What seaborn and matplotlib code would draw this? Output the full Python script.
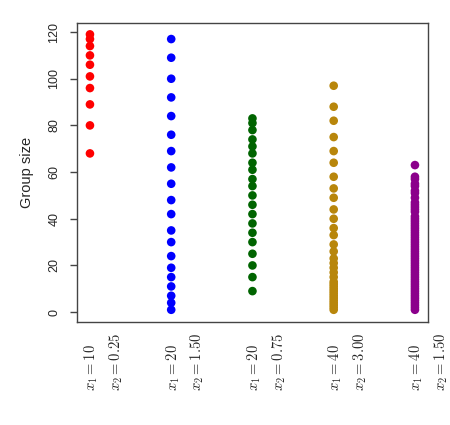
import pandas as pd
import matplotlib
matplotlib.use('Agg')
import matplotlib.pyplot as plt
import matplotlib.transforms as mtransforms
import seaborn as sns

# Group labels (x1, x2 settings) and colours
labels = [
    '$x_1 = 10$\n$x_2 = 0.25$',
    '$x_1 = 20$\n$x_2 = 1.50$',
    '$x_1 = 20$\n$x_2 = 0.75$',
    '$x_1 = 40$\n$x_2 = 3.00$',
    '$x_1 = 40$\n$x_2 = 1.50$',
]
colors = ['#FF0000', '#0000FF', '#006400', '#B8860B', '#8B008B']

# Group sizes
sizes_a = [119, 117, 114, 110, 106, 101, 96, 89, 80, 68]
sizes_b = [117, 109, 100, 92, 84, 76, 69, 62, 55, 48, 42, 35, 30, 24, 19, 15, 11, 7, 4, 1]
sizes_c = [83, 81, 78, 74, 71, 68, 64, 61, 57, 54, 50, 46, 42, 38, 34, 30, 25, 20, 15, 9]
sizes_d = [97, 88, 82, 75, 69, 64, 58, 53, 49, 44, 40, 36, 33, 29, 26, 23, 21, 19, 17,
           15, 13, 12, 11, 10, 9, 8, 7, 6, 5, 4, 3, 2, 1]
sizes_e = [63, 58, 57, 55, 54, 52, 51, 49, 47, 46, 45, 44, 43, 41, 40, 39, 38, 37, 36,
           35, 34, 33, 32, 31, 30, 29, 28, 27, 26, 25, 24, 23, 22, 21, 20, 19, 18, 17,
           16, 15, 14, 13, 12, 11, 10, 9, 8, 7, 6, 5, 4, 3, 2, 1]

groups = [sizes_a, sizes_b, sizes_c, sizes_d, sizes_e]
df = pd.DataFrame({
    'group': [lab for lab, g in zip(labels, groups) for _ in g],
    'size': [v for g in groups for v in g],
})

sns.set_style('white')
plt.rcParams['font.family'] = ['Liberation Sans', 'DejaVu Sans']
plt.rcParams['mathtext.fontset'] = 'cm'

fig = plt.figure(figsize=(4.5, 4.25), dpi=100)
ax = fig.add_axes([0.171, 0.242, 0.78, 0.704])

sns.stripplot(data=df, x='group', y='size', hue='group', order=labels,
              hue_order=labels, palette=colors, jitter=False, size=6.2,
              linewidth=0, legend=False, ax=ax)

ax.set_xlim(-0.16, 4.16)
ax.set_ylim(-4.3, 123.9)
ax.set_yticks(range(0, 121, 20))
ax.set_xlabel('')
ax.set_ylabel('Group size', fontsize=10.5, labelpad=10)

for s in ax.spines.values():
    s.set_color('#444444')
    s.set_linewidth(1)
    s.set_visible(True)

ax.tick_params(axis='y', left=True, length=5, width=1, color='#444444',
               labelsize=9, pad=7)
for t in ax.get_yticklabels():
    t.set_rotation(90)
    t.set_va('center')

ax.tick_params(axis='x', bottom=False, length=0, pad=8)
offset = mtransforms.ScaledTranslation(0.14, 0, fig.dpi_scale_trans)
for t in ax.get_xticklabels():
    t.set_rotation(90)
    t.set_fontsize(10.5)
    t.set_multialignment('left')
    t.set_linespacing(1.55)
    t.set_transform(t.get_transform() + offset)

fig.savefig('out.png', dpi=100)
